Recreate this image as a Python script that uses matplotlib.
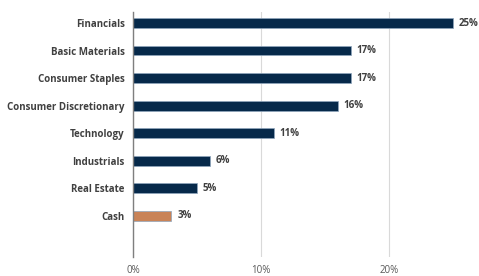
import matplotlib.pyplot as plt
from matplotlib.ticker import FuncFormatter

sectors = ["Financials", "Basic Materials", "Consumer Staples", "Consumer Discretionary",
           "Technology", "Industrials", "Real Estate", "Cash"]
weights = [25, 17, 17, 16, 11, 6, 5, 3]
colors = ["#06294a"] * 7 + ["#c98357"]

plt.rcParams['font.family'] = ['Open Sans', 'DejaVu Sans']

fig = plt.figure(figsize=(4.79, 2.76), dpi=100)
ax = fig.add_axes([133 / 479, 19 / 276, 346 / 479, 245 / 276])

pos = list(range(len(sectors)))
bars = ax.barh(pos, weights, height=0.36, color=colors, edgecolor="#8fa6bd", linewidth=0.5, zorder=3)

for bar, w in zip(bars, weights):
    ax.text(bar.get_width() + 0.45, bar.get_y() + bar.get_height() / 2, f"{w}%",
            va="center", ha="left", fontsize=7, fontweight="bold", color="#404040")

ax.set_yticks(pos)
ax.set_yticklabels(sectors, fontsize=7, fontweight="bold", color="#404040")
ax.set_ylim(8.5, -0.4)
ax.set_xlim(0, 27.0)
ax.set_xticks([0, 10, 20])
ax.xaxis.set_major_formatter(FuncFormatter(lambda v, _: f"{v:.0f}%"))
ax.tick_params(axis="x", labelsize=7, colors="#595959", length=0, pad=6)
ax.tick_params(axis="y", length=0, pad=6)

for s in ["top", "right", "bottom"]:
    ax.spines[s].set_visible(False)
ax.spines["left"].set_color("#7f7f7f")
ax.spines["left"].set_linewidth(1.0)
ax.spines["left"].set_zorder(4)
ax.grid(axis="x", color="#d9d9d9", linewidth=0.8, zorder=0)

fig.savefig("out.png", dpi=100)
